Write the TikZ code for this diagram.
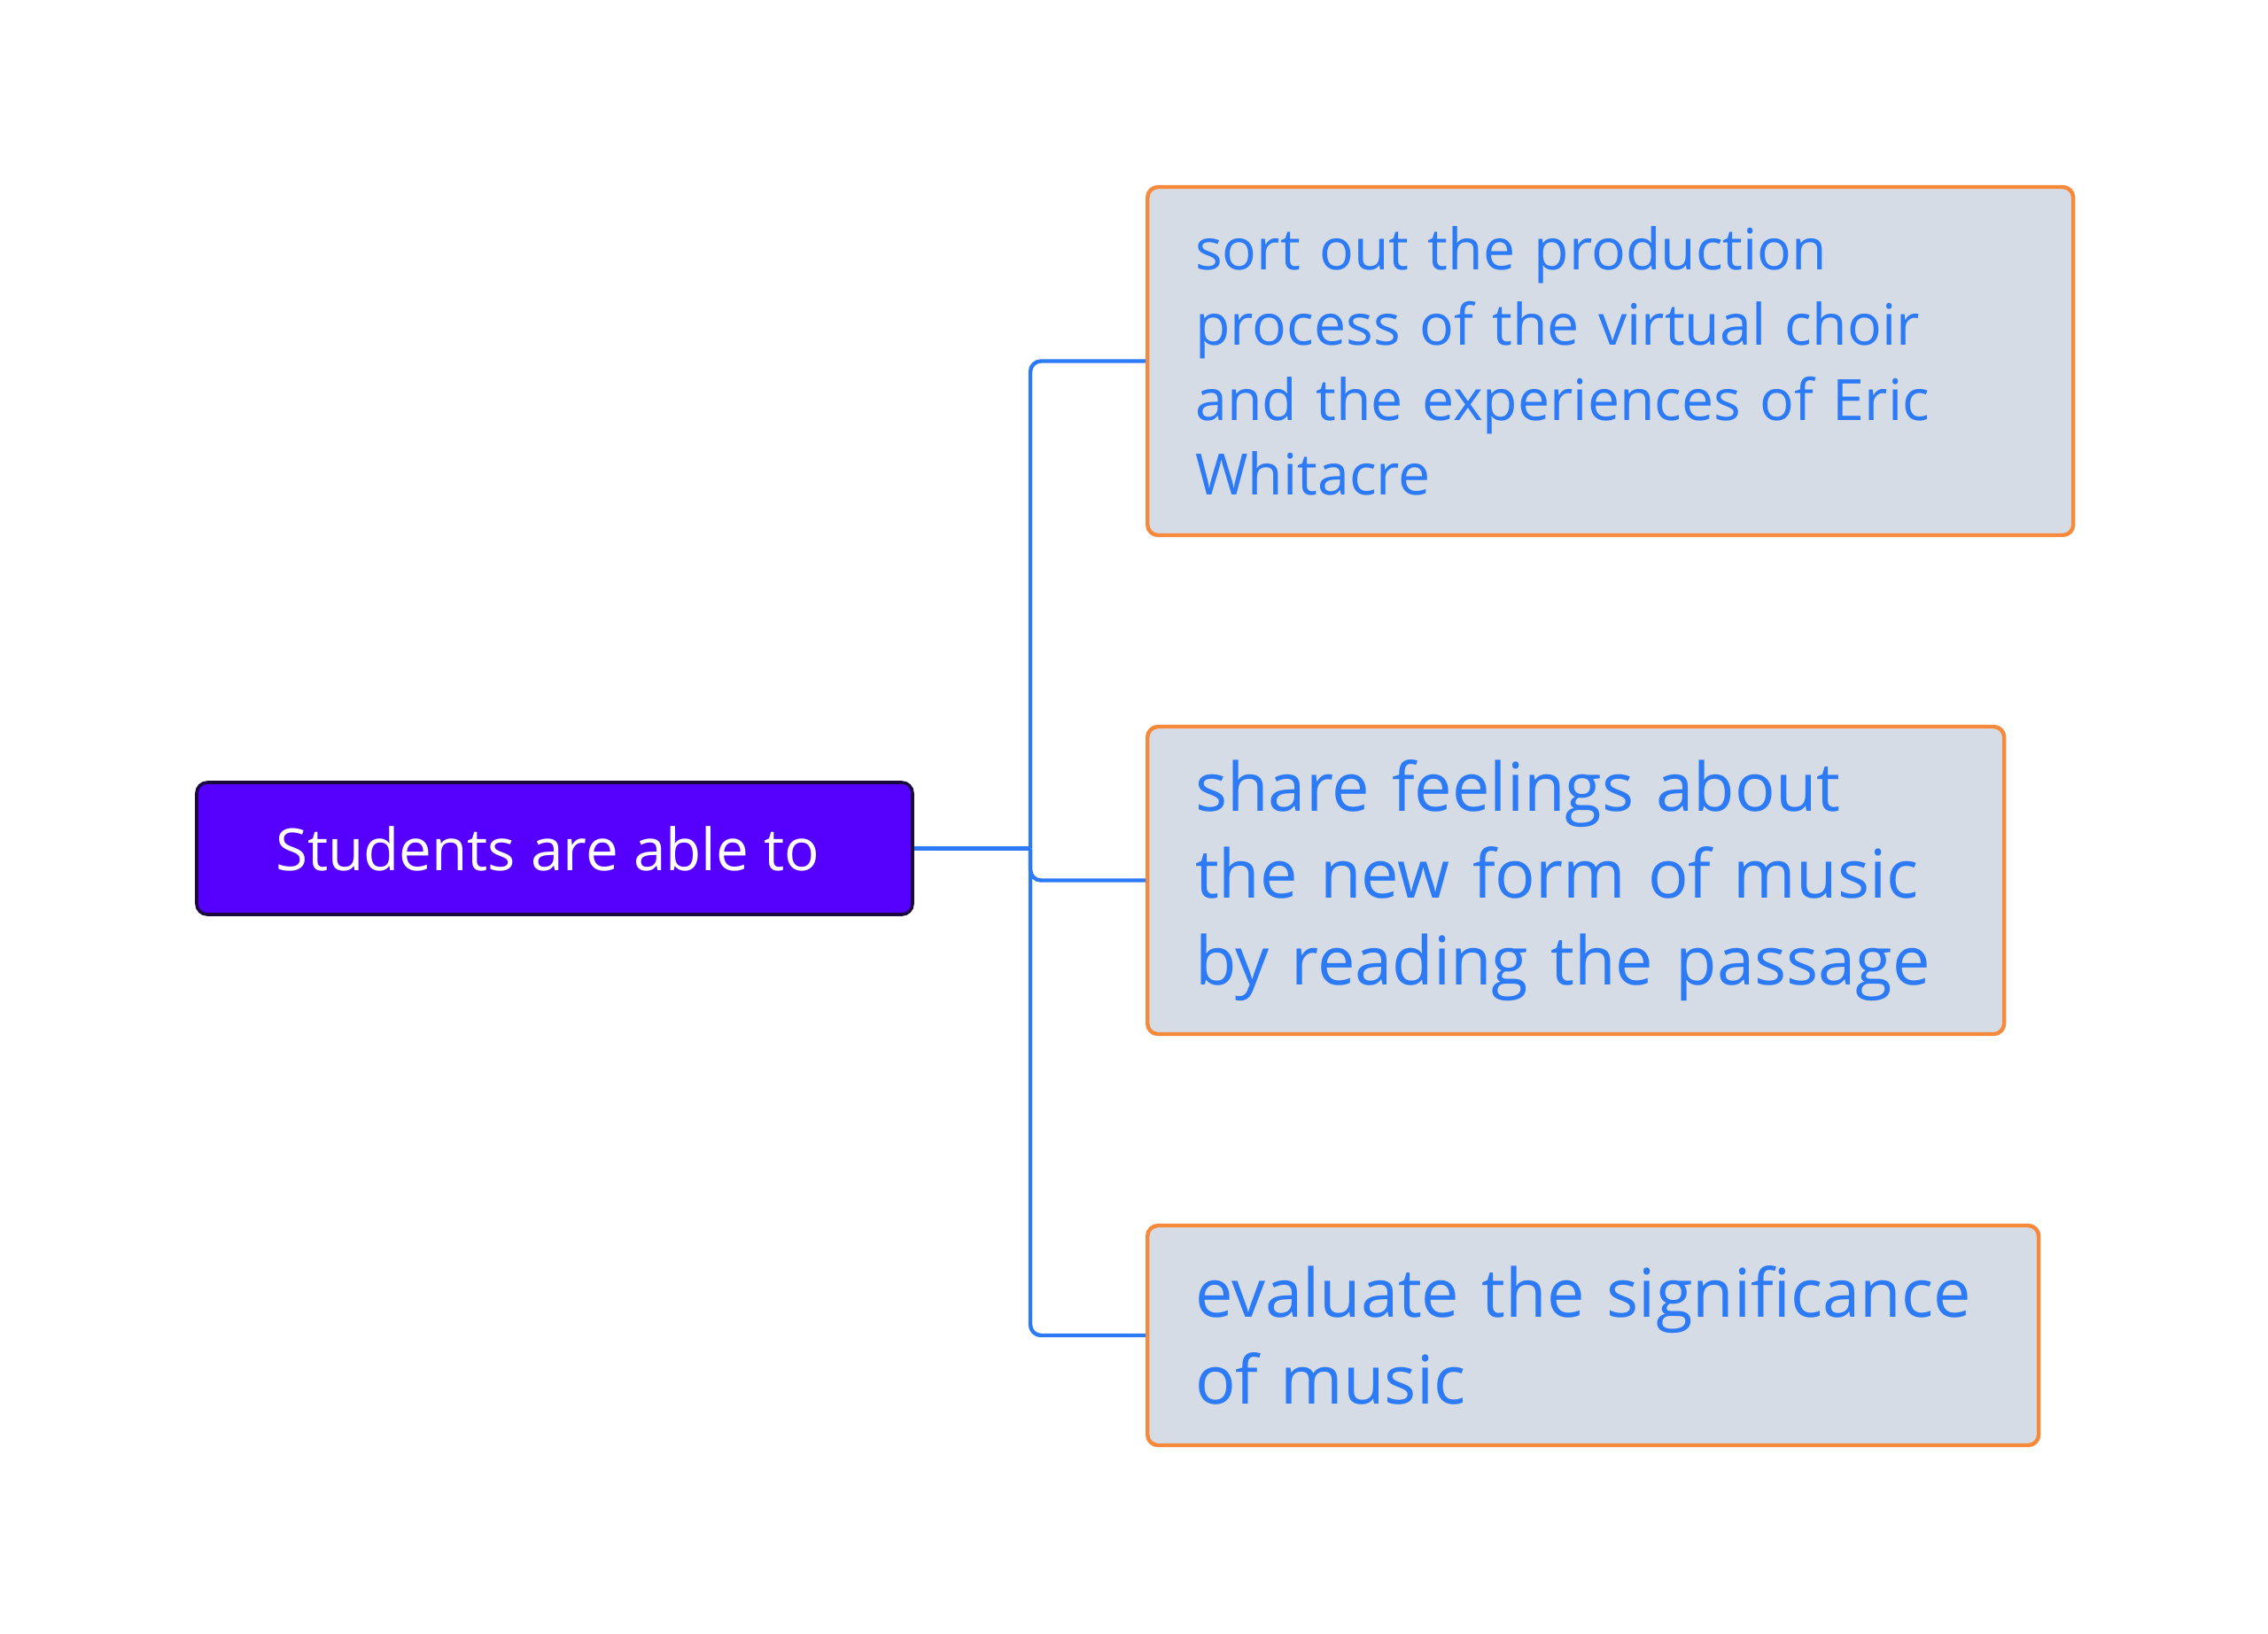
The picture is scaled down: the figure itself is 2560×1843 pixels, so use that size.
\documentclass[tikz,border=0pt]{standalone}
\usepackage{fontspec}
\setmainfont{Open Sans}
\definecolor{rootfill}{HTML}{5500FF}
\definecolor{rootdraw}{HTML}{1A0A40}
\definecolor{boxfill}{HTML}{D6DCE5}
\definecolor{boxdraw}{HTML}{F7893B}
\definecolor{boxtext}{HTML}{2D7AF6}
\definecolor{conncol}{HTML}{2D7AF6}
\tikzset{
  rootbox/.style={draw=rootdraw, fill=rootfill, line width=0.9pt, rounded corners=3pt,
    minimum width=202pt, minimum height=37.25pt, inner sep=0pt, text=white,
    font=\fontsize{16.4}{19}\selectfont},
  childbox/.style={draw=boxdraw, fill=boxfill, line width=1.1pt, rounded corners=3pt,
    inner xsep=13.5pt, inner ysep=0pt, align=left, text=boxtext, anchor=west},
  conn/.style={draw=conncol, line width=1.1pt, rounded corners=3pt},
}
\begin{document}
\begin{tikzpicture}[x=0.25pt,y=-0.25pt]
\useasboundingbox (0,0) rectangle (2560,1843);
\node[rootbox] (root) at (626,957.5) {\hspace*{-4pt}Students are able to};
\node[childbox, text width=234.25pt, minimum height=98.25pt,
  font=\fontsize{16.1}{21.2}\selectfont] (b1) at (1293,407.5)
  {sort out the production\\process of the virtual choir\\and the experiences of Eric\\Whitacre};
\node[childbox, text width=214.75pt, minimum height=86.75pt,
  font=\fontsize{18.95}{24.5}\selectfont] (b2) at (1293,993.5)
  {share feelings about\\the new form of music\\by reading the passage};
\node[childbox, text width=224.5pt, minimum height=62pt,
  font=\fontsize{18.95}{24.5}\selectfont] (b3) at (1293,1507)
  {evaluate the significance\\of music};
\coordinate (j) at (1163,957.5);
\draw[conn] (root.east) -- (j);
\draw[conn] (j) |- (b1.west);
\draw[conn] (j) |- (b2.west);
\draw[conn] (j) |- (b3.west);
\end{tikzpicture}
\end{document}
